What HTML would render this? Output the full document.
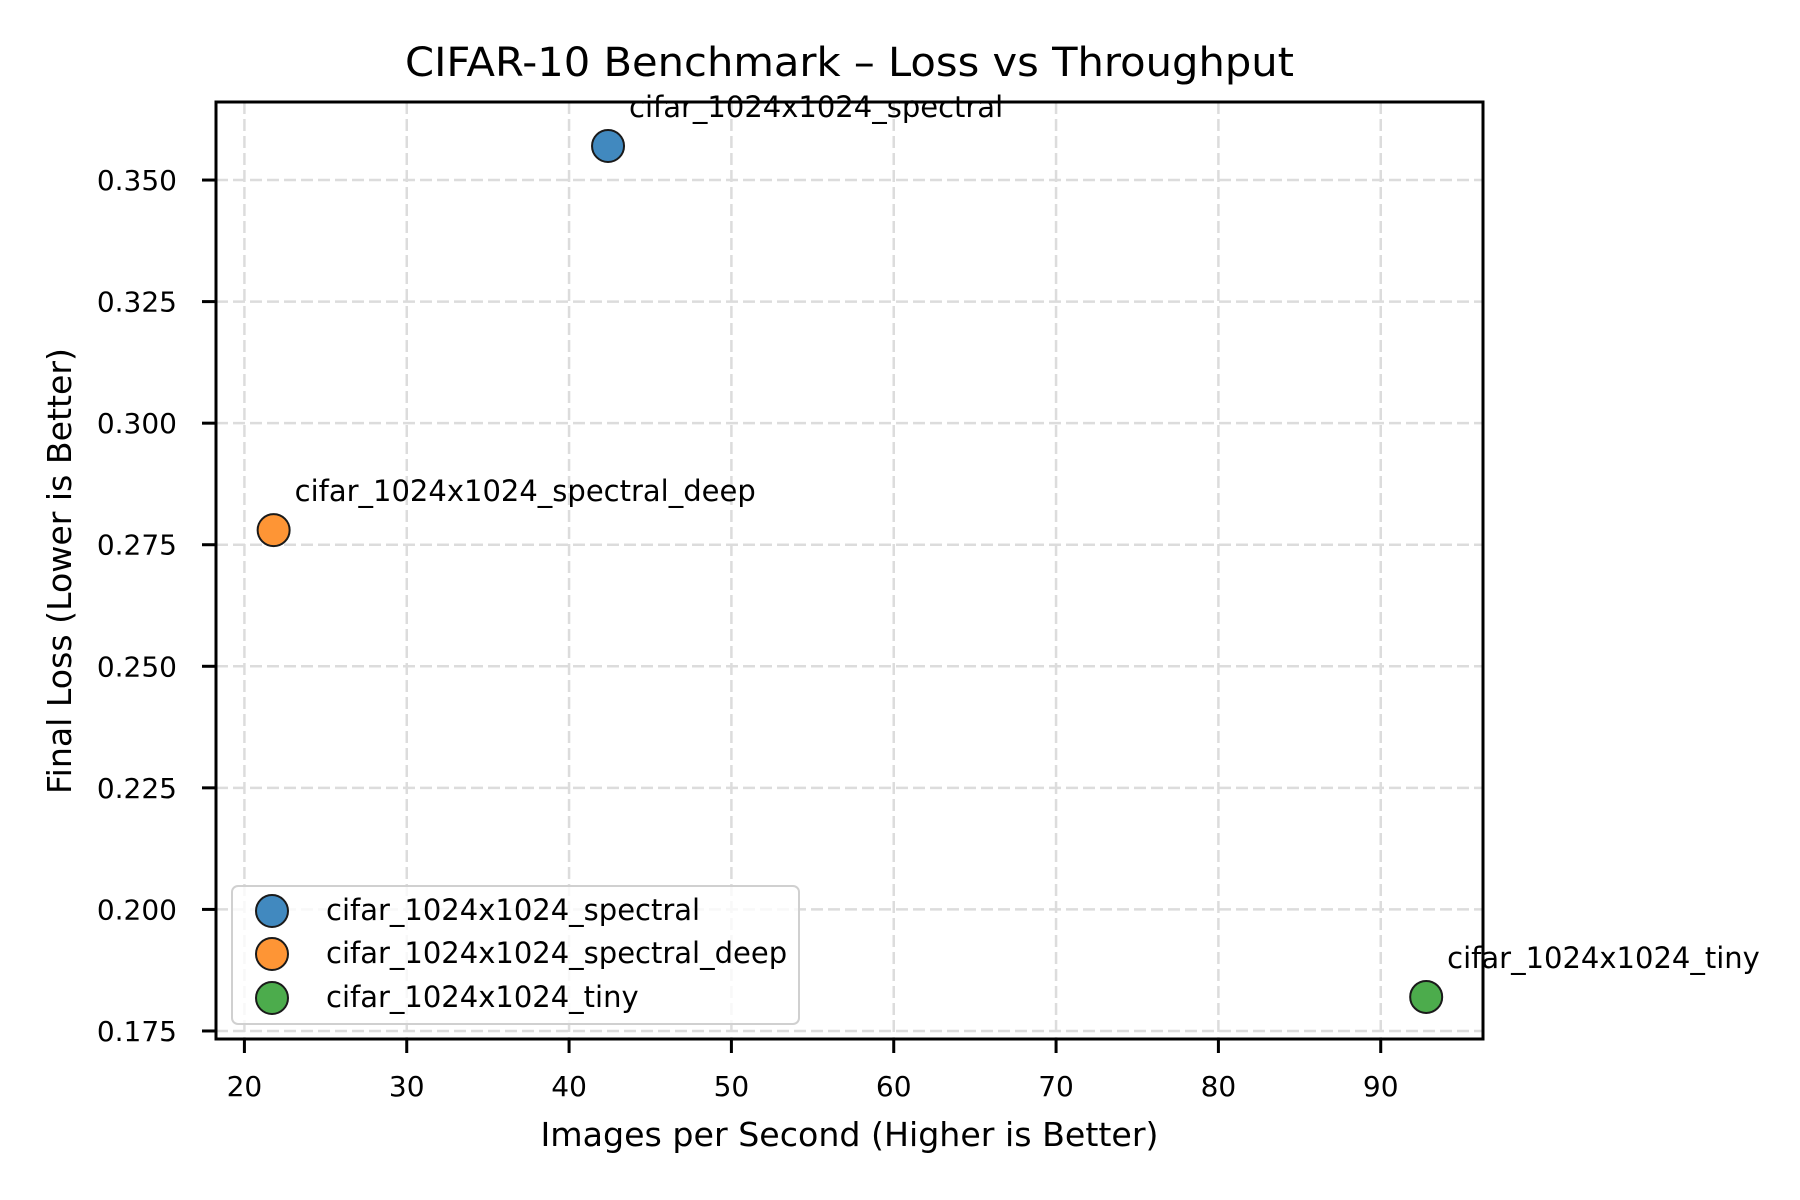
<!DOCTYPE html>
<html><head><meta charset="utf-8"><style>
html,body{margin:0;padding:0;background:#fff;}
svg{display:block;font-family:"DejaVu Sans","Liberation Sans",sans-serif;}
</style></head><body>
<svg id="chart" width="1800" height="1200" viewBox="0 0 1800 1200">
<rect x="0" y="0" width="1800" height="1200" fill="#fff"/>
<g id="grid"></g>
<g id="axes"></g>
<g id="points"></g>
<g id="legend"></g>
<text x="849.5" y="76" text-anchor="middle" font-size="40" textLength="889" lengthAdjust="spacingAndGlyphs">CIFAR-10 Benchmark – Loss vs Throughput</text>
<text x="849.5" y="1146" text-anchor="middle" font-size="33" textLength="618" lengthAdjust="spacingAndGlyphs">Images per Second (Higher is Better)</text>
<text x="0" y="0" text-anchor="middle" font-size="33" textLength="446" lengthAdjust="spacingAndGlyphs" transform="translate(71,571) rotate(-90)">Final Loss (Lower is Better)</text>
</svg>
<script>
const names = ["cifar_1024x1024_spectral", "cifar_1024x1024_spectral_deep", "cifar_1024x1024_tiny"];
const throughput = [42.4, 21.8, 92.8];
const loss = [0.357, 0.278, 0.182];
const colors = ["#4189bf", "#fe9535", "#4cac4c"];
const xTicks = [20, 30, 40, 50, 60, 70, 80, 90];
const yTicks = [0.175, 0.200, 0.225, 0.250, 0.275, 0.300, 0.325, 0.350];
const yTickLabels = ["0.175", "0.200", "0.225", "0.250", "0.275", "0.300", "0.325", "0.350"];

const L = 216, R = 1483, T = 102, B = 1039;
const xMin = 18.25, xMax = 96.3, yMin = 0.17335, yMax = 0.36605;
const sx = v => L + (v - xMin) / (xMax - xMin) * (R - L);
const sy = v => B - (v - yMin) / (yMax - yMin) * (B - T);
const NS = "http://www.w3.org/2000/svg";
function mk(tag, attrs, parent, txt) {
  const e = document.createElementNS(NS, tag);
  for (const k in attrs) e.setAttribute(k, attrs[k]);
  if (txt !== undefined) e.textContent = txt;
  parent.appendChild(e);
  return e;
}
const grid = document.getElementById('grid');
const axes = document.getElementById('axes');
const pts = document.getElementById('points');
const leg = document.getElementById('legend');

xTicks.forEach(t => {
  const x = sx(t);
  const g = mk('line', {x1: x, x2: x, y1: T, y2: B, stroke: '#dcdcdc', 'stroke-width': 2.5, 'stroke-dasharray': '12 5'}, grid);
  
  
  const tk = mk('line', {x1: x, x2: x, y1: B, y2: B + 14, stroke: '#000', 'stroke-width': 3}, axes);
  
  
  const lb = mk('text', {x: x, y: 1096, 'text-anchor': 'middle', 'font-size': 28}, axes, String(t));
  
  
});
yTicks.forEach((t, i) => {
  const y = sy(t);
  const g = mk('line', {x1: L, x2: R, y1: y, y2: y, stroke: '#dcdcdc', 'stroke-width': 2.5, 'stroke-dasharray': '12 5'}, grid);
  
  
  const tk = mk('line', {x1: L - 14, x2: L, y1: y, y2: y, stroke: '#000', 'stroke-width': 3}, axes);
  
  
  const lb = mk('text', {x: 177, y: y + 10, 'text-anchor': 'end', 'font-size': 28}, axes, yTickLabels[i]);
  
  
});
const frame = mk('rect', {x: L, y: T, width: R - L, height: B - T, fill: 'none', stroke: '#000', 'stroke-width': 3}, axes);



names.forEach((n, i) => {
  const cx = sx(throughput[i]), cy = sy(loss[i]);
  const c = mk('circle', {cx: cx, cy: cy, r: 16, fill: colors[i], stroke: '#1a1a1a', 'stroke-width': 2}, pts);
  
  
  const t = mk('text', {x: cx + 21, y: cy - 29, 'font-size': 29}, pts, n);
  
  
});

const box = mk('rect', {x: 232, y: 886, width: 567, height: 138, rx: 6, fill: 'rgba(255,255,255,0.8)', stroke: '#d0d0d0', 'stroke-width': 2}, leg);


const legY = [911, 954, 998];
names.forEach((n, i) => {
  const c = mk('circle', {cx: 272, cy: legY[i], r: 16, fill: colors[i], stroke: '#1a1a1a', 'stroke-width': 2}, leg);
  
  
  const t = mk('text', {x: 326, y: legY[i] + 9, 'font-size': 29}, leg, n);
  
  
});
</script>
</body></html>
